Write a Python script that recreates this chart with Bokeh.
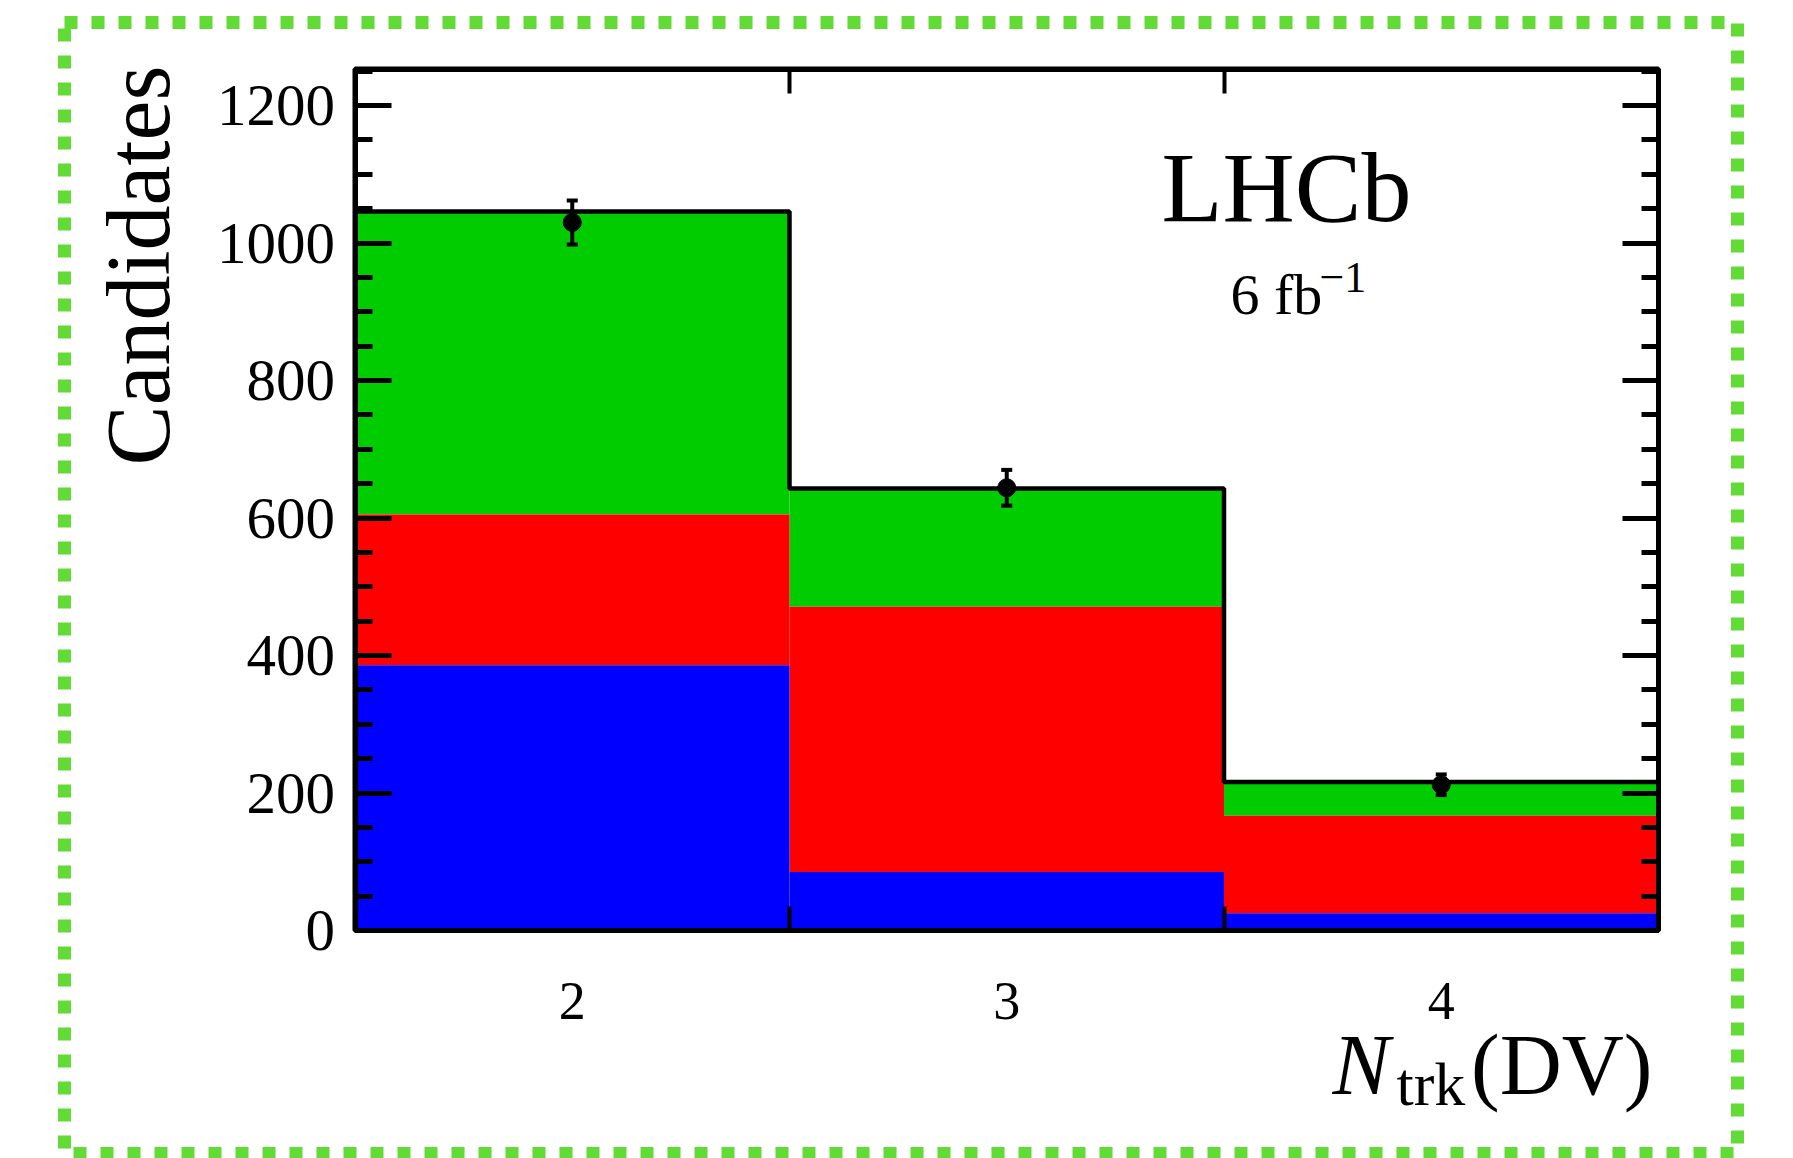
import numpy as np
from bokeh.plotting import figure
from bokeh.models import (ColumnDataSource, LinearAxis, FixedTicker, SingleIntervalTicker,
                          Range1d, CustomJSTickFormatter)
from bokeh.core.properties import value
from bokeh.embed import file_html
from bokeh.resources import INLINE

# ---------------- data ----------------
bin_labels = ["2", "3", "4"]
bin_centers = [2, 3, 4]
bin_edges = [1.5, 2.5, 3.5, 4.5]
blue_comp = [386, 85, 25]      # bottom component
red_comp = [219, 386, 142]     # middle component
green_comp = [441, 172, 49]    # top component
data_counts = [1030, 644, 212]
data_errors = [32, 26, 15]
y_major_interval = 200
y_lo, y_hi = 0, 1253

FONT = "Liberation Serif"
BORDER_GREEN = "#63db36"

# ---------------- canvas geometry (pixels) ----------------
W, H = 1793, 1158
PX_L, PX_R, PX_T, PX_B = 354.5, 1658.0, 68.6, 930.0
x_lo, x_hi = bin_edges[0], bin_edges[-1]
sx = (PX_R - PX_L) / (x_hi - x_lo)
sy = (PX_B - PX_T) / (y_hi - y_lo)


def X(px):
    return x_lo + (px - PX_L) / sx


def Y(py):
    return y_lo + (PX_B - py) / sy


p = figure(frame_width=W, frame_height=H, min_border=0,
           min_border_left=0, min_border_right=0, min_border_top=0, min_border_bottom=0,
           x_range=Range1d(X(0), X(W)), y_range=Range1d(Y(H), Y(0)),
           x_axis_location=None, y_axis_location=None,
           output_backend="svg", toolbar_location=None)
p.xgrid.visible = False
p.ygrid.visible = False
p.outline_line_color = None
p.background_fill_color = "white"
p.border_fill_color = "white"

# ---------------- stacked histogram ----------------
edges = np.array(bin_edges, dtype=float)
blue_top = np.array(blue_comp, dtype=float)
red_top = blue_top + np.array(red_comp)
green_top = red_top + np.array(green_comp)
src = ColumnDataSource(dict(left=edges[:-1], right=edges[1:],
                            zero=np.zeros(len(blue_top)),
                            blue=blue_top, red=red_top, green=green_top))
p.quad(left="left", right="right", bottom="red", top="green", source=src,
       fill_color="#00cc00", line_color=None)
p.quad(left="left", right="right", bottom="blue", top="red", source=src,
       fill_color="#ff0000", line_color=None)
p.quad(left="left", right="right", bottom="zero", top="blue", source=src,
       fill_color="#0000ff", line_color=None)

# outline of total
p.step(x=list(edges), y=list(green_top) + [green_top[-1]], mode="after",
       line_color="black", line_width=4.5)

# plot frame
p.quad(left=[x_lo], right=[x_hi], bottom=[y_lo], top=[y_hi],
       fill_color=None, line_color="black", line_width=5)

# ---------------- data points ----------------
dc = np.array(data_counts, dtype=float)
de = np.array(data_errors, dtype=float)
dsrc = ColumnDataSource(dict(x=bin_centers, y=dc, lo=dc - de, hi=dc + de))
p.segment(x0="x", y0="lo", x1="x", y1="hi", source=dsrc, line_color="black", line_width=4)
p.scatter(x="x", y="hi", source=dsrc, marker="dash", size=11, line_width=4, line_color="black")
p.scatter(x="x", y="lo", source=dsrc, marker="dash", size=11, line_width=4, line_color="black")
p.scatter(x="x", y="y", source=dsrc, marker="circle", size=18,
          fill_color="black", line_color="black")


# ---------------- axes (fixed at the histogram frame) ----------------
def style_y(ax, labels=True):
    ax.axis_line_width = 5
    ax.axis_line_color = "black"
    ax.major_tick_in = 36
    ax.major_tick_out = 0
    ax.major_tick_line_width = 5
    ax.minor_tick_in = 17
    ax.minor_tick_out = 0
    ax.minor_tick_line_width = 5
    ax.major_label_text_font = FONT
    ax.major_label_text_font_size = "59px"
    ax.major_label_text_color = "black"
    ax.major_label_standoff = 20
    if not labels:
        ax.formatter = CustomJSTickFormatter(code="return ''")


yl = LinearAxis(ticker=SingleIntervalTicker(interval=y_major_interval, num_minor_ticks=4),
                fixed_location=x_lo, bounds=(y_lo, y_hi))
style_y(yl)
p.add_layout(yl, "left")
yr = LinearAxis(ticker=SingleIntervalTicker(interval=y_major_interval, num_minor_ticks=4),
                fixed_location=x_hi, bounds=(y_lo, y_hi))
style_y(yr, labels=False)
p.add_layout(yr, "right")


def style_x(ax, labels=True):
    ax.axis_line_width = 5
    ax.axis_line_color = "black"
    ax.major_tick_in = 0
    ax.major_tick_out = 0
    ax.minor_tick_in = 24
    ax.minor_tick_out = 0
    ax.minor_tick_line_width = 4
    ax.major_label_text_font = FONT
    ax.major_label_text_font_size = "54px"
    ax.major_label_text_color = "black"
    ax.major_label_standoff = 52
    if labels:
        ax.major_label_overrides = {c: l for c, l in zip(bin_centers, bin_labels)}
    else:
        ax.formatter = CustomJSTickFormatter(code="return ''")


xb = LinearAxis(ticker=FixedTicker(ticks=bin_centers, minor_ticks=bin_edges),
                fixed_location=y_lo, bounds=(x_lo, x_hi))
style_x(xb)
p.add_layout(xb, "below")
xt = LinearAxis(ticker=FixedTicker(ticks=bin_centers, minor_ticks=bin_edges),
                fixed_location=y_hi, bounds=(x_lo, x_hi))
style_x(xt, labels=False)
p.add_layout(xt, "above")

# ---------------- texts ----------------
# the rendered alphabetic baseline sits about 0.36 em below the anchor; compensate
SHIFT = 0.36


def txt(text, px, py, size, align="left", style="normal", angle=0.0):
    if angle == 0.0:
        py = py - SHIFT * size
    else:
        px = px - SHIFT * size
    p.text(x=[X(px)], y=[Y(py)], text=[text], text_font=value(FONT),
           text_font_size=f"{size}px", text_font_style=style, text_align=align,
           text_baseline="alphabetic", text_color="black", angle=angle)


txt("Candidates", 170, 65, 90, align="right", angle=np.pi / 2)
txt("LHCb", 1286, 223, 100, align="center")
txt("6 fb", 1230, 315, 58)
txt("\u22121", 1319, 293, 44)
txt("N", 1332, 1095, 86, style="italic")
txt("trk", 1396, 1106, 62)
txt("(DV)", 1652, 1095, 86, align="right")

# ---------------- dotted green frame ----------------
p.quad(left=[X(64)], right=[X(1737)], top=[Y(22)], bottom=[Y(1153)],
       fill_color=None, line_color=BORDER_GREEN, line_width=13, line_dash="13 14")

open("out.html", "w").write(file_html(p, INLINE))
